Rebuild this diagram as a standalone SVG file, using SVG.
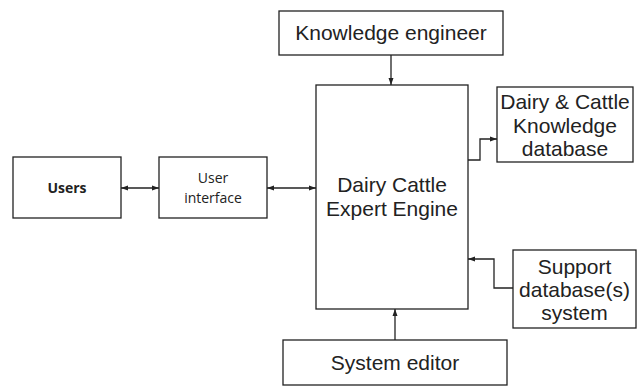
<svg xmlns="http://www.w3.org/2000/svg" width="640" height="386" viewBox="0 0 640 386">
  <defs>
    <marker id="arrow" markerUnits="userSpaceOnUse" markerWidth="8" markerHeight="6" refX="7" refY="3" orient="auto-start-reverse">
      <path d="M0,0.5 L7,3 L0,5.5 z" fill="#222"/>
    </marker>
    <style>
      .box { fill: #fff; stroke: #222; stroke-width: 1.3; }
      .lbl { font-family: "Liberation Sans", Arial, sans-serif; font-size: 21px; fill: #222; text-anchor: middle; }
      .lbl-s { font-family: "Open Sans", "Noto Sans", sans-serif; font-size: 14px; fill: #222; text-anchor: middle; }
      .conn { fill: none; stroke: #222; stroke-width: 1.3; }
    </style>
  </defs>
  <rect width="640" height="386" fill="#fff"/>

  <g id="connectors">
    <line class="conn" x1="121" y1="188" x2="159" y2="188" marker-start="url(#arrow)" marker-end="url(#arrow)"/>
    <line class="conn" x1="267" y1="188" x2="316" y2="188" marker-start="url(#arrow)" marker-end="url(#arrow)"/>
    <line class="conn" x1="391" y1="55" x2="391" y2="85" marker-end="url(#arrow)"/>
    <polyline class="conn" points="468,160 480,160 480,139 497,139" marker-end="url(#arrow)"/>
    <polyline class="conn" points="513,288 494,288 494,259 468,259" marker-end="url(#arrow)"/>
    <line class="conn" x1="395" y1="340" x2="395" y2="309" marker-end="url(#arrow)"/>
  </g>

  <g id="users">
    <rect class="box" x="13" y="157" width="108" height="61"/>
    <text class="lbl-s" x="67" y="193" font-weight="bold" font-size="13.5">Users</text>
  </g>

  <g id="user-interface">
    <rect class="box" x="159" y="157" width="108" height="61"/>
    <text class="lbl-s" x="213" y="183">User</text>
    <text class="lbl-s" x="213" y="203">interface</text>
  </g>

  <g id="knowledge-engineer">
    <rect class="box" x="279" y="11" width="224" height="44"/>
    <text class="lbl" x="391" y="40">Knowledge engineer</text>
  </g>

  <g id="expert-engine">
    <rect class="box" x="316" y="85" width="152" height="224"/>
    <text class="lbl" x="392" y="192">Dairy Cattle</text>
    <text class="lbl" x="392" y="216">Expert Engine</text>
  </g>

  <g id="knowledge-database">
    <rect class="box" x="497" y="87" width="136" height="75"/>
    <text class="lbl" x="565" y="109">Dairy &amp; Cattle</text>
    <text class="lbl" x="565" y="132.5">Knowledge</text>
    <text class="lbl" x="565" y="156">database</text>
  </g>

  <g id="support-database">
    <rect class="box" x="513" y="250" width="123" height="78"/>
    <text class="lbl" x="574.5" y="273.5">Support</text>
    <text class="lbl" x="574.5" y="296.5">database(s)</text>
    <text class="lbl" x="574.5" y="319.5">system</text>
  </g>

  <g id="system-editor">
    <rect class="box" x="283" y="340" width="224" height="45"/>
    <text class="lbl" x="395" y="370">System editor</text>
  </g>
</svg>
